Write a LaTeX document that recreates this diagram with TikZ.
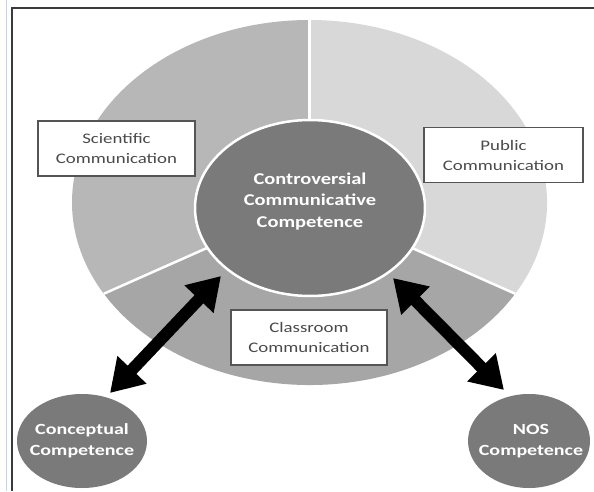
\documentclass[tikz,border=0pt]{standalone}
\usepackage{fontspec}
\setmainfont{Carlito}
\usetikzlibrary{arrows.meta,shapes.geometric}
\definecolor{scicol}{HTML}{B7B7B7}
\definecolor{pubcol}{HTML}{D8D8D8}
\definecolor{clscol}{HTML}{A6A6A6}
\definecolor{corecol}{HTML}{7A7A7A}
\definecolor{boxtxt}{HTML}{4A4A4A}
\definecolor{boxline}{HTML}{555555}
\definecolor{framecol}{HTML}{3A3A3A}
\definecolor{edgecol}{HTML}{C9D3E3}
\newcommand{\hs}[1]{\scalebox{1.29}[1]{#1}}
\newcommand{\hc}[1]{\scalebox{1.24}[1]{#1}}
\begin{document}
\begin{tikzpicture}[x=1pt,y=1pt,
  lbl/.style={draw=boxline, line width=1.2pt, fill=white, minimum height=55pt,
    inner sep=0pt, text=boxtxt, font=\fontsize{14.6}{20}\selectfont, align=center},
  blob/.style={ellipse, fill=corecol, inner sep=0pt},
  blobtxt/.style={text=white, font=\bfseries\fontsize{15.5}{21.5}\selectfont, align=center, inner sep=0pt},
  coretext/.style={text=white, font=\bfseries\fontsize{16.5}{21.5}\selectfont, align=center, inner sep=0pt},
  dbl/.style={line width=12pt, {Triangle[length=32pt,width=38pt]}-{Triangle[length=32pt,width=38pt]}},
  divider/.style={white, line width=2.5pt}]
\useasboundingbox (0,0) rectangle (594,491);
\fill[white] (0,0) rectangle (594,491);
% outer disk
\coordinate (O) at (309.5,288.5);
\fill[scicol] (O) -- ++(90:237.5 and 182.5) arc[start angle=90, end angle=210, x radius=237.5, y radius=182.5] -- cycle;
\fill[clscol] (O) -- ++(210:237.5 and 182.5) arc[start angle=210, end angle=330, x radius=237.5, y radius=182.5] -- cycle;
\fill[pubcol] (O) -- ++(330:237.5 and 182.5) arc[start angle=330, end angle=450, x radius=237.5, y radius=182.5] -- cycle;
\draw[divider] (O) -- ++(90:237.5 and 182.5);
\draw[divider] (O) -- ++(210:237.5 and 182.5);
\draw[divider] (O) -- ++(330:237.5 and 182.5);
% core
\node[blob, draw=white, line width=2.5pt, minimum width=230pt, minimum height=176pt] (core) at (310,283) {};
\node[coretext] (coretxt) at (310,289.5) {\hc{Controversial}\\\hc{Communicative}\\\hc{Competence}};
% labels
\node[lbl, minimum width=157pt] (sci) at (116.5,342.5) {\hs{Scientific}\\\hs{Communication}};
\node[lbl, minimum width=159pt] (pub) at (503.5,336) {\hs{Public}\\\hs{Communication}};
\node[lbl, minimum width=156pt] (cls) at (309,153.5) {\hs{Classroom}\\\hs{Communication}};
% small competences
\node[blob, minimum width=130pt, minimum height=94pt] (concept) at (82,50) {};
\node[blobtxt] (concepttxt) at (82,50) {\hs{Conceptual}\\\hs{Competence}};
\node[blob, minimum width=122pt, minimum height=94pt] (nos) at (529,50) {};
\node[blobtxt] (nostxt) at (531,50) {\hs{NOS}\\\hs{Competence}};
% arrows
\coordinate (la) at (221,215);
\coordinate (lb) at (110,98);
\coordinate (ra) at (393,213);
\coordinate (rb) at (504,101);
\draw[dbl] (la) -- (lb);
\draw[dbl] (ra) -- (rb);
% frame
\draw[edgecol, line width=1.2pt] (6.5,0) -- (6.5,491);
\draw[framecol, line width=2pt] (12,0) -- (12,483) -- (594,483);
\end{tikzpicture}
\end{document}
